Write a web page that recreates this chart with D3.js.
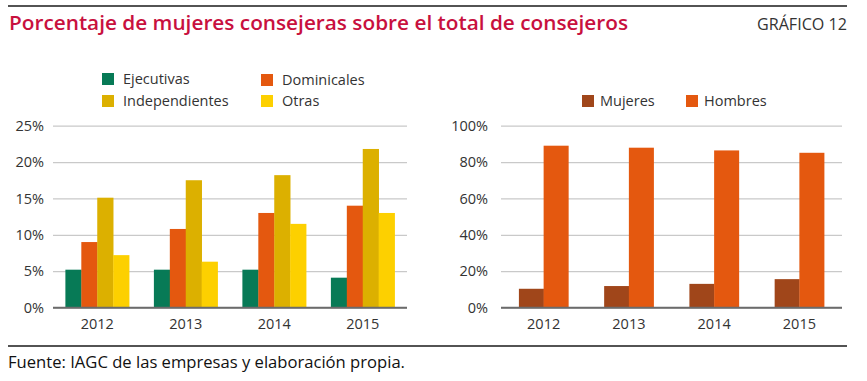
<!DOCTYPE html>
<html>
<head>
<meta charset="utf-8">
<script src="https://cdn.jsdelivr.net/npm/d3@7"></script>
<style>
	body { margin: 0; background: #fff; }
	svg { display: block; font-family: "Open Sans", sans-serif; }
</style>
</head>
<body>
<div id="chart"></div>
<script>
const years = ["2012", "2013", "2014", "2015"];

// left chart: tipo de consejera (%)
const tipoSeries = ["Ejecutivas", "Dominicales", "Independientes", "Otras"];
const ejecutivas = [5.2, 5.2, 5.2, 4.1];
const dominicales = [9.0, 10.8, 13.0, 14.0];
const independientes = [15.1, 17.5, 18.2, 21.8];
const otras = [7.2, 6.3, 11.5, 13.0];
const leftTicks = [0, 5, 10, 15, 20, 25];

// right chart: mujeres / hombres (%)
const sexoSeries = ["Mujeres", "Hombres"];
const mujeres = [10.3, 11.8, 13.0, 15.6];
const hombres = [89.0, 87.9, 86.4, 85.1];
const rightTicks = [0, 20, 40, 60, 80, 100];

const W = 867, H = 381;
const svg = d3.select("#chart").append("svg")
	.attr("width", W)
	.attr("height", H);

// header + footer
svg.append("line")
	.attr("x1", 8).attr("x2", 847).attr("y1", 6).attr("y2", 6)
	.attr("stroke", "#1a1a1a").attr("stroke-width", 1.3);
svg.append("text")
	.attr("x", 9).attr("y", 29.5)
	.attr("font-size", 19.5).attr("font-weight", 600)
	.attr("fill", "#c8103e")
	.attr("textLength", 619).attr("lengthAdjust", "spacingAndGlyphs")
	.text("Porcentaje de mujeres consejeras sobre el total de consejeros");
svg.append("text")
	.attr("x", 757).attr("y", 30)
	.attr("font-size", 15.5)
	.attr("fill", "#333")
	.attr("textLength", 90).attr("lengthAdjust", "spacingAndGlyphs")
	.text("GRÁFICO 12");
svg.append("line")
	.attr("x1", 8).attr("x2", 847).attr("y1", 346).attr("y2", 346)
	.attr("stroke", "#1a1a1a").attr("stroke-width", 1.3);
svg.append("text")
	.attr("x", 8).attr("y", 367.5)
	.attr("font-size", 16.5)
	.attr("fill", "#111")
	.attr("textLength", 397).attr("lengthAdjust", "spacingAndGlyphs")
	.text("Fuente: IAGC de las empresas y elaboración propia.");

function drawChart(opts) {
	const g = svg.append("g");
	const y = d3.scaleLinear().domain(opts.yDomain).range([307.5, 125.7]);
	const x0 = d3.scaleBand().domain(years).range(opts.xRange)
		.paddingInner(opts.padInner).paddingOuter(opts.padOuter);
	const x1 = d3.scaleBand().domain(opts.series).range([0, x0.bandwidth()]);

	// grid
	const yAxis = d3.axisLeft(y).tickValues(opts.ticks)
		.tickSize(-(opts.xRange[1] - opts.xRange[0]))
		.tickFormat(d => d + "%");
	const ax = g.append("g")
		.attr("transform", `translate(${opts.xRange[0]},0)`)
		.call(yAxis);
	ax.select(".domain").remove();
	ax.selectAll(".tick line")
		.attr("stroke", d => d === 0 ? "#6b6b6b" : "#c9c9c9")
		.attr("stroke-width", d => d === 0 ? 1.5 : 1.2);
	ax.selectAll(".tick text")
		.attr("x", -opts.labelGap)
		.attr("font-size", 14.5)
		.attr("fill", "#333")
		.attr("font-family", "Open Sans, sans-serif");

	// bars
	const rows = years.map((yr, i) => ({
		year: yr,
		vals: opts.series.map((s, j) => ({ key: s, value: opts.values[j][i], color: opts.colors[j] }))
	}));
	g.selectAll("g.grp")
		.data(rows)
		.join("g")
		.attr("class", "grp")
		.attr("transform", d => `translate(${x0(d.year)},0)`)
		.selectAll("rect")
		.data(d => d.vals)
		.join("rect")
		.attr("x", d => x1(d.key))
		.attr("width", x1.bandwidth() + 0.3)
		.attr("y", d => y(d.value))
		.attr("height", d => y(0) - y(d.value))
		.attr("fill", d => d.color);

	// redraw baseline on top of bars
	g.append("line")
		.attr("x1", opts.xRange[0]).attr("x2", opts.xRange[1])
		.attr("y1", y(0)).attr("y2", y(0))
		.attr("stroke", "#6b6b6b").attr("stroke-width", 1.5);

	// x labels
	const xAxis = d3.axisBottom(x0).tickSize(0);
	const xa = g.append("g")
		.attr("transform", `translate(0,${y(0)})`)
		.call(xAxis);
	xa.select(".domain").remove();
	xa.selectAll(".tick text")
		.attr("dy", 0).attr("y", 21)
		.attr("font-size", 14.5)
		.attr("fill", "#333")
		.attr("font-family", "Open Sans, sans-serif");

	// legend
	const leg = g.selectAll("g.leg")
		.data(opts.series)
		.join("g")
		.attr("class", "leg")
		.attr("transform", (d, i) => `translate(${opts.legend[i][0]},${opts.legend[i][1]})`);
	leg.append("rect")
		.attr("x", 0).attr("y", -6)
		.attr("width", 12).attr("height", 12)
		.attr("fill", (d, i) => opts.colors[i]);
	leg.append("text")
		.attr("x", opts.legendTextGap).attr("y", 5)
		.attr("font-size", 14.5)
		.attr("fill", "#333")
		.text(d => d);
}

drawChart({
	series: tipoSeries,
	values: [ejecutivas, dominicales, independientes, otras],
	colors: ["#077a56", "#e4580f", "#dcb000", "#fdd000"],
	yDomain: [0, 25],
	ticks: leftTicks,
	xRange: [53, 407],
	padInner: 0.28,
	padOuter: 0.14,
	labelGap: 9,
	legend: [[102, 79], [261, 80], [102, 101], [261, 101]],
	legendTextGap: 21
});

drawChart({
	series: sexoSeries,
	values: [mujeres, hombres],
	colors: ["#a0461a", "#e4580f"],
	yDomain: [0, 100],
	ticks: rightTicks,
	xRange: [501, 842],
	padInner: 0.42,
	padOuter: 0.21,
	labelGap: 13,
	legend: [[582, 101], [686, 101]],
	legendTextGap: 18
});
</script>
</body>
</html>
